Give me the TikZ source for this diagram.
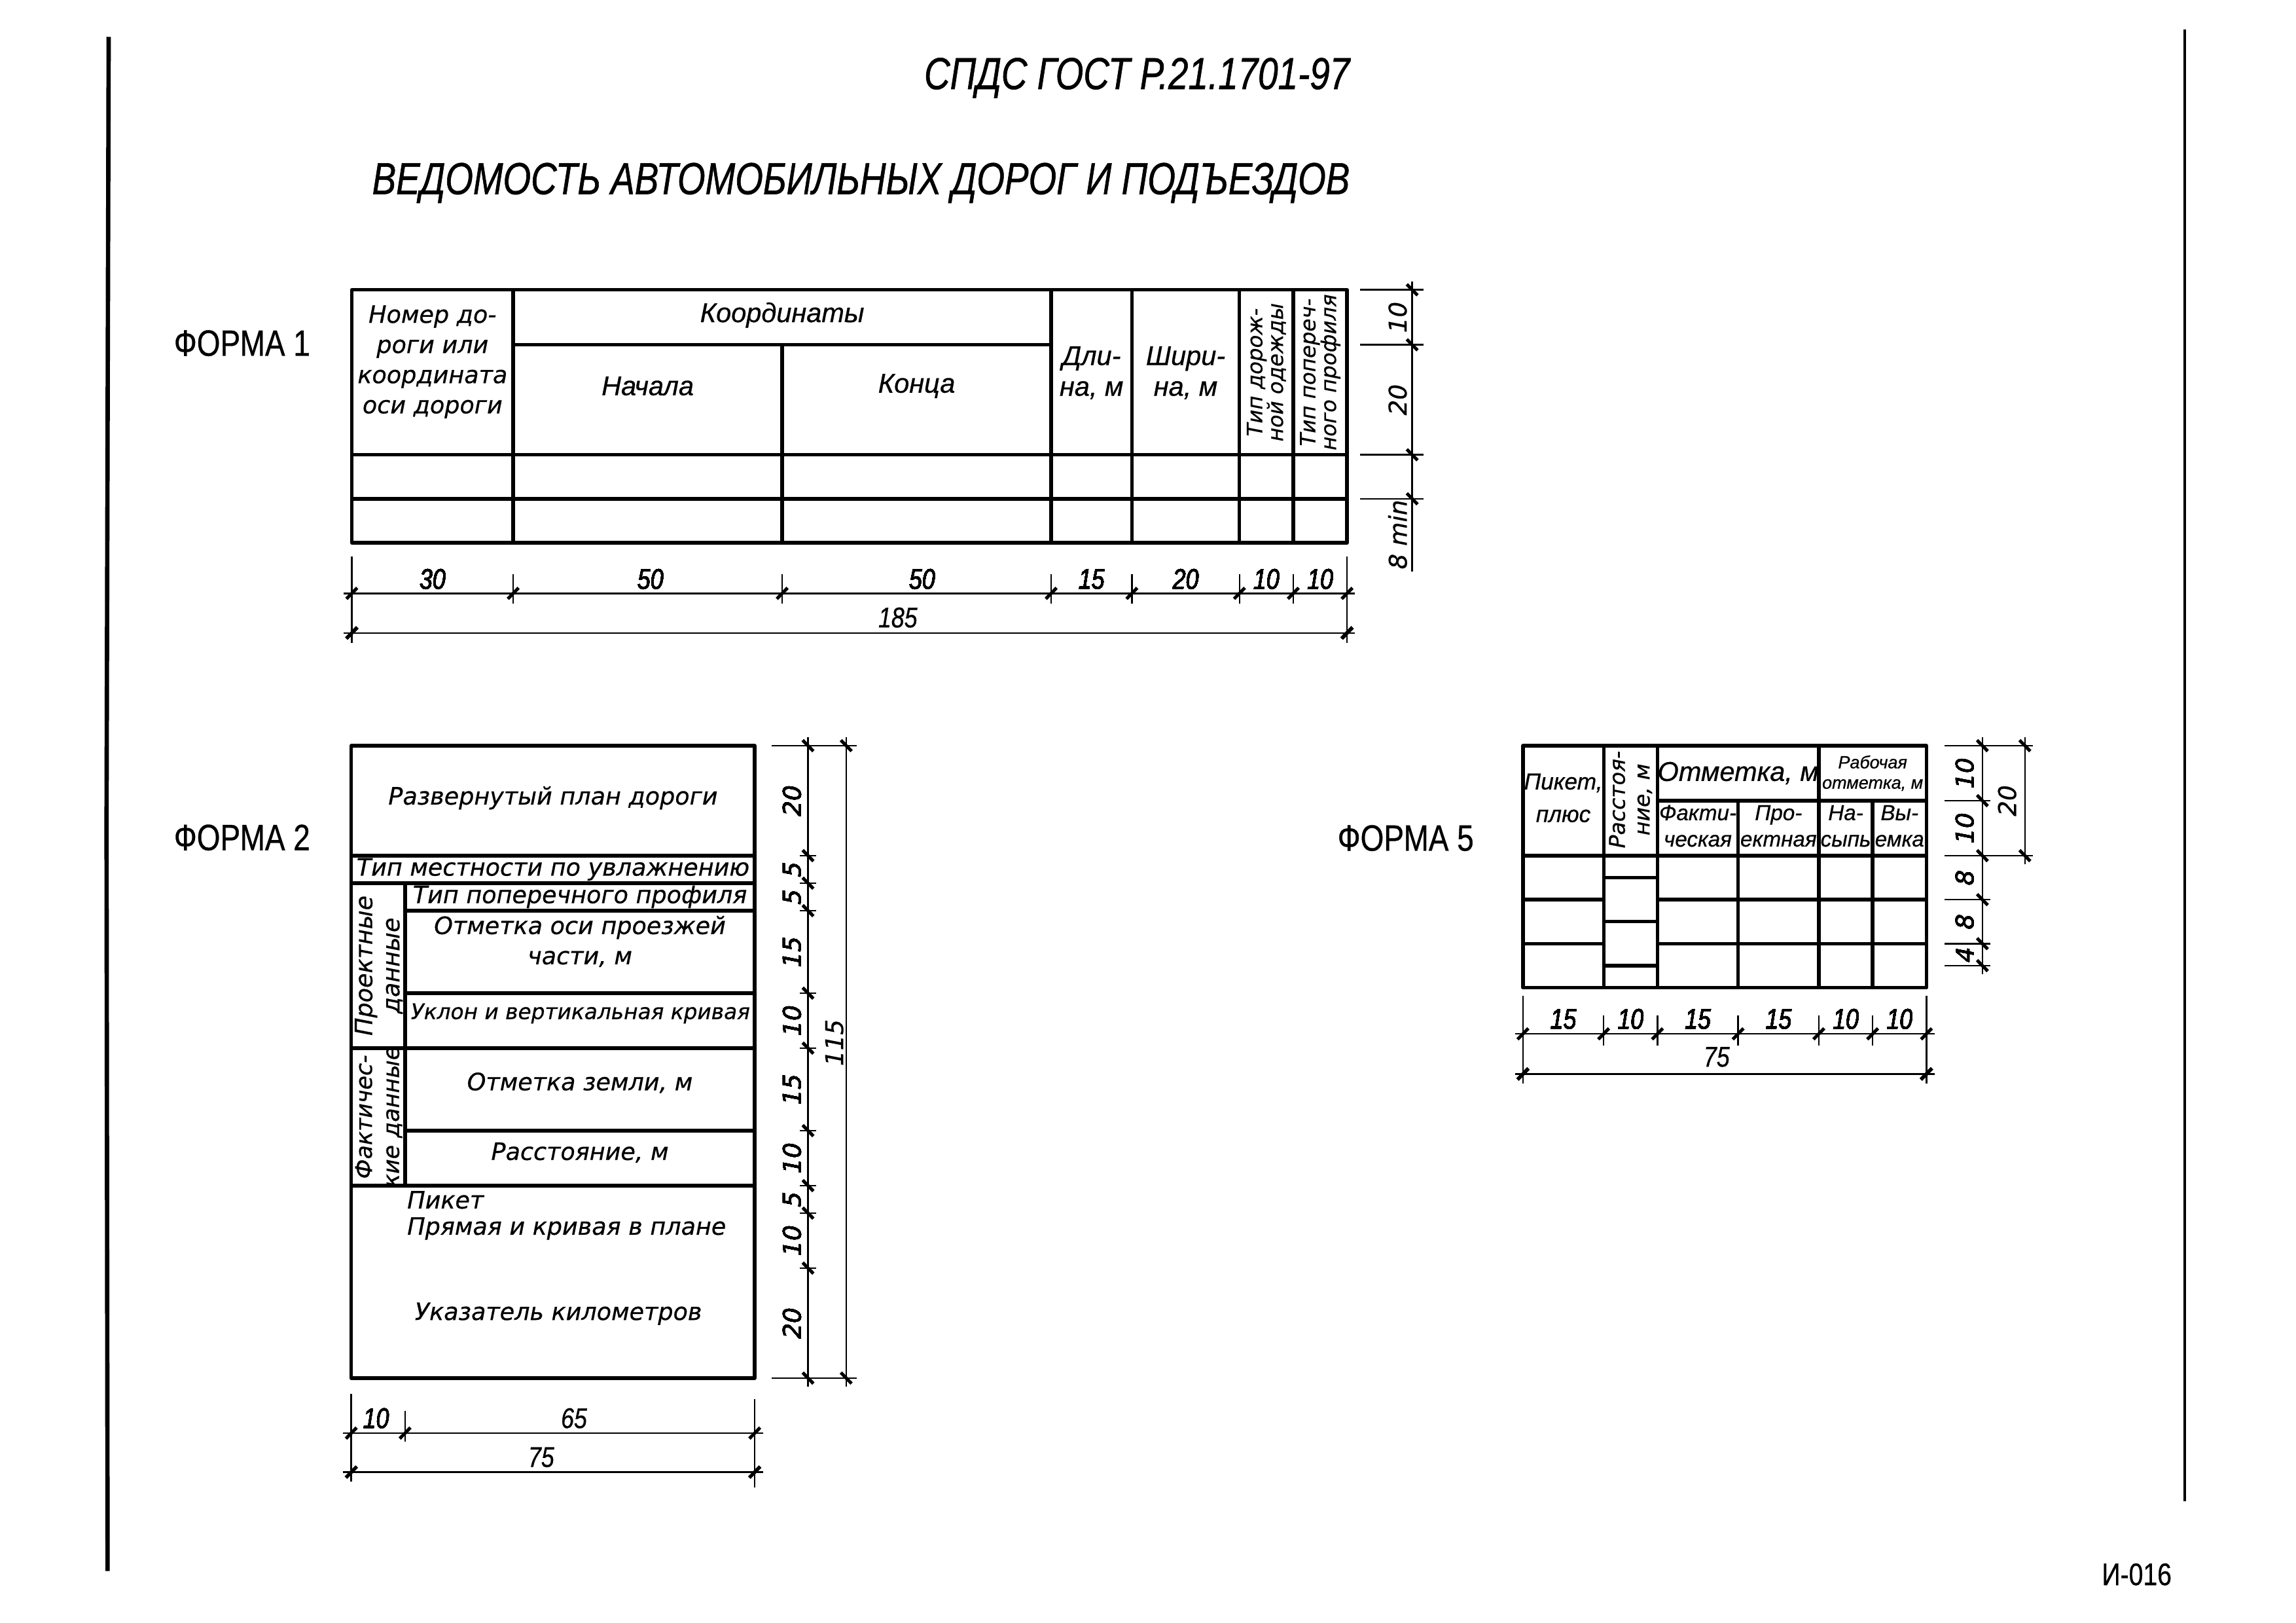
\documentclass[tikz,border=0pt]{standalone}
\usepackage{fontspec}
\setmainfont{Liberation Sans}[FakeBold=0.6]
\newfontfamily\gost{DejaVu Sans}[FakeBold=0.6]
\newfontfamily\narrow{Liberation Sans}[FakeStretch=0.82, FakeBold=0.6]
\newfontfamily\headfont{Liberation Sans}[FakeStretch=0.80, FakeBold=0.8]

\tikzset{
  tabline/.style={line width=1.3pt, line join=round},
  dimline/.style={line width=0.6pt},
  tickmark/.style={line width=1.2pt},
  gtext/.style={inner sep=0pt, align=center, font=\gost\itshape\fontsize{8.8}{11.1}\selectfont},
  ntext/.style={inner sep=0pt, align=center, font=\itshape\fontsize{10}{11.3}\selectfont},
  dimtext/.style={inner sep=0pt, font=\narrow\itshape\fontsize{10.5}{12}\selectfont},
  vdimtext/.style={inner sep=0pt, rotate=90, font=\gost\itshape\fontsize{9}{10}\selectfont},
  formlabel/.style={inner sep=0pt, anchor=mid, font=\narrow\fontsize{13.5}{15}\selectfont},
  titletext/.style={inner sep=0pt, anchor=mid east, font=\headfont\itshape\fontsize{16.5}{18}\selectfont},
}
\newcommand{\htick}[1]{\draw[tickmark] (#1) ++(-1,1) -- ++(2,-2);}
\newcommand{\vtick}[1]{\draw[tickmark] (#1) ++(-1,-1) -- ++(2,2);}

\begin{document}
\begin{tikzpicture}[x=1.9802pt, y=-2.0236pt]
  \useasboundingbox (0,0) rectangle (426.8,295.1);
  % sheet edges
  \draw[line width=1.6pt] (20.2,6.7) -- (19.8,150) -- (20.0,285.7);
  \draw[line width=0.8pt] (406.1,5.4) -- (406.1,273.0);
  \node[inner sep=0pt, font=\narrow\fontsize{11.5}{12}\selectfont] (sheetno) at (397.2,286.3) {И-016};

  % titles
  \node[titletext] (gost) at (251.0,14.9) {СПДС ГОСТ Р.21.1701-97};
  \node[titletext] (sheettitle) at (251.0,34.0) {ВЕДОМОСТЬ АВТОМОБИЛЬНЫХ ДОРОГ И ПОДЪЕЗДОВ};

  \node[formlabel] (form1) at (45.0,63.4) {ФОРМА 1};
  \node[formlabel] (form2) at (45.0,153.3) {ФОРМА 2};
  \node[formlabel] (form5) at (261.3,153.4) {ФОРМА 5};

  % ---- form 1
  \begin{scope}[shift={(65.4,52.7)}]
    \draw[tabline] (0,0) rectangle (185,46);
    \draw[tabline] (30,10) -- (130,10);
    \draw[tabline] (0,30) -- (185,30);
    \draw[tabline] (0,38) -- (185,38);
    \foreach \x in {30,130,145,165,175} \draw[tabline] (\x,0) -- (\x,46);
    \draw[tabline] (80,10) -- (80,46);

    \node[gtext] (f1num) at (15,13.1) {Номер до-\\роги или\\координата\\оси дороги};
    \node[ntext] (f1coord) at (80,4.6) {Координаты};
    \node[ntext] (f1start) at (55,17.5) {Начала};
    \node[ntext] (f1end) at (105,17.5) {Конца};
    \node[ntext] (f1len) at (137.5,15.1) {Дли-\\на, м};
    \node[ntext] (f1wid) at (155,15.1) {Шири-\\на, м};
    \node[gtext, rotate=90, font=\gost\itshape\fontsize{7.8}{7.6}\selectfont] (f1pave) at (170,15) {Тип дорож-\\ной одежды};
    \node[gtext, rotate=90, font=\gost\itshape\fontsize{7.8}{7.6}\selectfont] (f1prof) at (180,15) {Тип попереч-\\ного профиля};

    % widths
    \draw[dimline] (-1.5,55.2) -- (186.5,55.2);
    \draw[dimline] (-1.5,62.4) -- (186.5,62.4);
    \foreach \x in {0,185} \draw[dimline] (\x,48.5) -- (\x,64.2);
    \foreach \x in {30,80,130,145,165,175} \draw[dimline] (\x,51.7) -- (\x,57.1);
    \foreach \x in {0,30,80,130,145,165,175,185} \htick{\x,55.2}
    \foreach \x in {0,185} \htick{\x,62.4}
    \foreach \x/\t [count=\i] in {15/30,55.5/50,106/50,137.5/15,155/20,170/10,180/10}
      \node[dimtext] (f1w\i) at (\x,52.6) {\t};
    \node[dimtext] (f1total) at (101.5,59.6) {185};

    % heights
    \draw[dimline] (197.1,-1.5) -- (197.1,51.2);
    \foreach \y in {0,10,30,38} {
      \draw[dimline] (187.4,\y) -- (199.2,\y);
      \vtick{197.1,\y}
    }
    \node[vdimtext] (f1h1) at (194.4,5) {10};
    \node[vdimtext] (f1h2) at (194.4,20) {20};
    \node[vdimtext] (f1h3) at (194.4,44.5) {8 min};
  \end{scope}

  % ---- form 2
  \begin{scope}[shift={(65.3,135.6)}]
    \draw[tabline] (0,0) rectangle (75,115);
    \foreach \y in {20,25,55,80} \draw[tabline] (0,\y) -- (75,\y);
    \foreach \y in {30,45,70} \draw[tabline] (10,\y) -- (75,\y);
    \draw[tabline] (10,25) -- (10,80);

    \node[gtext] (f2plan) at (37.5,9.5) {Развернутый план дороги};
    \node[gtext] (f2wet) at (37.5,22.5) {Тип местности по увлажнению};
    \node[gtext, rotate=90, font=\gost\itshape\fontsize{8.8}{10}\selectfont] (f2proj) at (5.1,40) {Проектные\\данные};
    \node[gtext, rotate=90, font=\gost\itshape\fontsize{8.4}{10}\selectfont] (f2fact) at (5.1,67.5) {Фактичес-\\кие данные};
    \node[gtext] (f2prof) at (42.5,27.5) {Тип поперечного профиля};
    \node[gtext] (f2axis) at (42.5,35.6) {Отметка оси проезжей\\части, м};
    \node[gtext, font=\gost\itshape\fontsize{7.9}{10}\selectfont] (f2slope) at (42.6,48.7) {Уклон и вертикальная кривая};
    \node[gtext] (f2ground) at (42.5,61.3) {Отметка земли, м};
    \node[gtext] (f2dist) at (42.5,74) {Расстояние, м};
    \node[gtext, anchor=west] (f2pk) at (10.3,82.6) {Пикет};
    \node[gtext, anchor=west] (f2line) at (10.3,87.8) {Прямая и кривая в плане};
    \node[gtext] (f2km) at (38.5,103.3) {Указатель километров};

    % heights
    \draw[dimline] (84.9,-1.5) -- (84.9,116.5);
    \draw[dimline] (92.0,-1.5) -- (92.0,116.5);
    \foreach \y in {0,115} {
      \draw[dimline] (78.1,\y) -- (94.0,\y);
      \vtick{92.0,\y}
    }
    \foreach \y in {20,25,30,45,55,70,80,85,95} \draw[dimline] (83.4,\y) -- (86.4,\y);
    \foreach \y in {0,20,25,30,45,55,70,80,85,95,115} \vtick{84.9,\y}
    \foreach \y/\t [count=\i] in {10/20,22.5/5,27.5/5,37.5/15,50/10,62.5/15,75/10,82.5/5,90/10,105/20}
      \node[vdimtext] (f2h\i) at (81.9,\y) {\t};
    \node[vdimtext] (f2total) at (89.8,54) {115};

    % widths
    \draw[dimline] (-1.5,125) -- (76.5,125);
    \draw[dimline] (-1.5,132.1) -- (76.5,132.1);
    \draw[dimline] (0,117.9) -- (0,133.8);
    \draw[dimline] (10,121) -- (10,126.5);
    \draw[dimline] (75,118.8) -- (75,134.9);
    \foreach \x in {0,10,75} \htick{\x,125}
    \foreach \x in {0,75} \htick{\x,132.1}
    \node[dimtext] (f2w1) at (4.6,122.3) {10};
    \node[dimtext] (f2w2) at (41.4,122.3) {65};
    \node[dimtext] (f2wtot) at (35.3,129.4) {75};
  \end{scope}

  % ---- form 5
  \begin{scope}[shift={(283.1,135.6)}]
    \draw[tabline] (0,0) rectangle (75,44);
    \draw[tabline] (25,10) -- (75,10);
    \draw[tabline] (0,20) -- (75,20);
    \foreach \x in {15,25,55} \draw[tabline] (\x,0) -- (\x,44);
    \foreach \x in {40,65} \draw[tabline] (\x,10) -- (\x,44);
    \foreach \y in {28,36} {
      \draw[tabline] (0,\y) -- (15,\y);
      \draw[tabline] (25,\y) -- (75,\y);
    }
    \foreach \y in {24,32,40} \draw[tabline] (15,\y) -- (25,\y);

    \node[ntext, font=\itshape\fontsize{8.5}{12}\selectfont] (f5pk) at (7.5,9.5) {Пикет,\\плюс};
    \node[gtext, rotate=90, font=\gost\itshape\fontsize{8}{9.1}\selectfont] (f5dist) at (20,9.8) {Расстоя-\\ние, м};
    \node[ntext, font=\itshape\fontsize{10}{11}\selectfont] (f5mark) at (40,5) {Отметка, м};
    \node[ntext, font=\itshape\fontsize{6.5}{7.5}\selectfont] (f5work) at (65,5) {Рабочая\\отметка, м};
    \node[ntext, font=\itshape\fontsize{8}{9.7}\selectfont] (f5fact) at (32.5,14.6) {Факти-\\ческая};
    \node[ntext, font=\itshape\fontsize{8}{9.7}\selectfont] (f5proj) at (47.5,14.6) {Про-\\ектная};
    \node[ntext, font=\itshape\fontsize{8}{9.7}\selectfont] (f5fill) at (60,14.6) {На-\\сыпь};
    \node[ntext, font=\itshape\fontsize{8}{9.7}\selectfont] (f5cut) at (70,14.6) {Вы-\\емка};

    % heights
    \draw[dimline] (85.4,-1.5) -- (85.4,41.5);
    \draw[dimline] (93.3,-1.5) -- (93.3,21.5);
    \foreach \y in {0,20} {
      \draw[dimline] (78.4,\y) -- (94.8,\y);
      \vtick{93.3,\y}
    }
    \foreach \y in {10,28,36,40} \draw[dimline] (78.4,\y) -- (86.9,\y);
    \foreach \y in {0,10,20,28,36,40} \vtick{85.4,\y}
    \foreach \y/\t [count=\i] in {5/10,15/10,24/8,32/8,38/4}
      \node[vdimtext] (f5h\i) at (82.1,\y) {\t};
    \node[vdimtext] (f5htot) at (90.0,10) {20};

    % widths
    \draw[dimline] (-1.5,52.4) -- (76.5,52.4);
    \draw[dimline] (-1.5,59.7) -- (76.5,59.7);
    \foreach \x in {0,75} \draw[dimline] (\x,45.5) -- (\x,61.4);
    \foreach \x in {15,25,40,55,65} \draw[dimline] (\x,49) -- (\x,54.5);
    \foreach \x in {0,15,25,40,55,65,75} \htick{\x,52.4}
    \foreach \x in {0,75} \htick{\x,59.7}
    \foreach \x/\t [count=\i] in {7.5/15,20/10,32.5/15,47.5/15,60/10,70/10}
      \node[dimtext] (f5w\i) at (\x,49.7) {\t};
    \node[dimtext] (f5wtot) at (36,56.6) {75};
  \end{scope}
\end{tikzpicture}
\end{document}
